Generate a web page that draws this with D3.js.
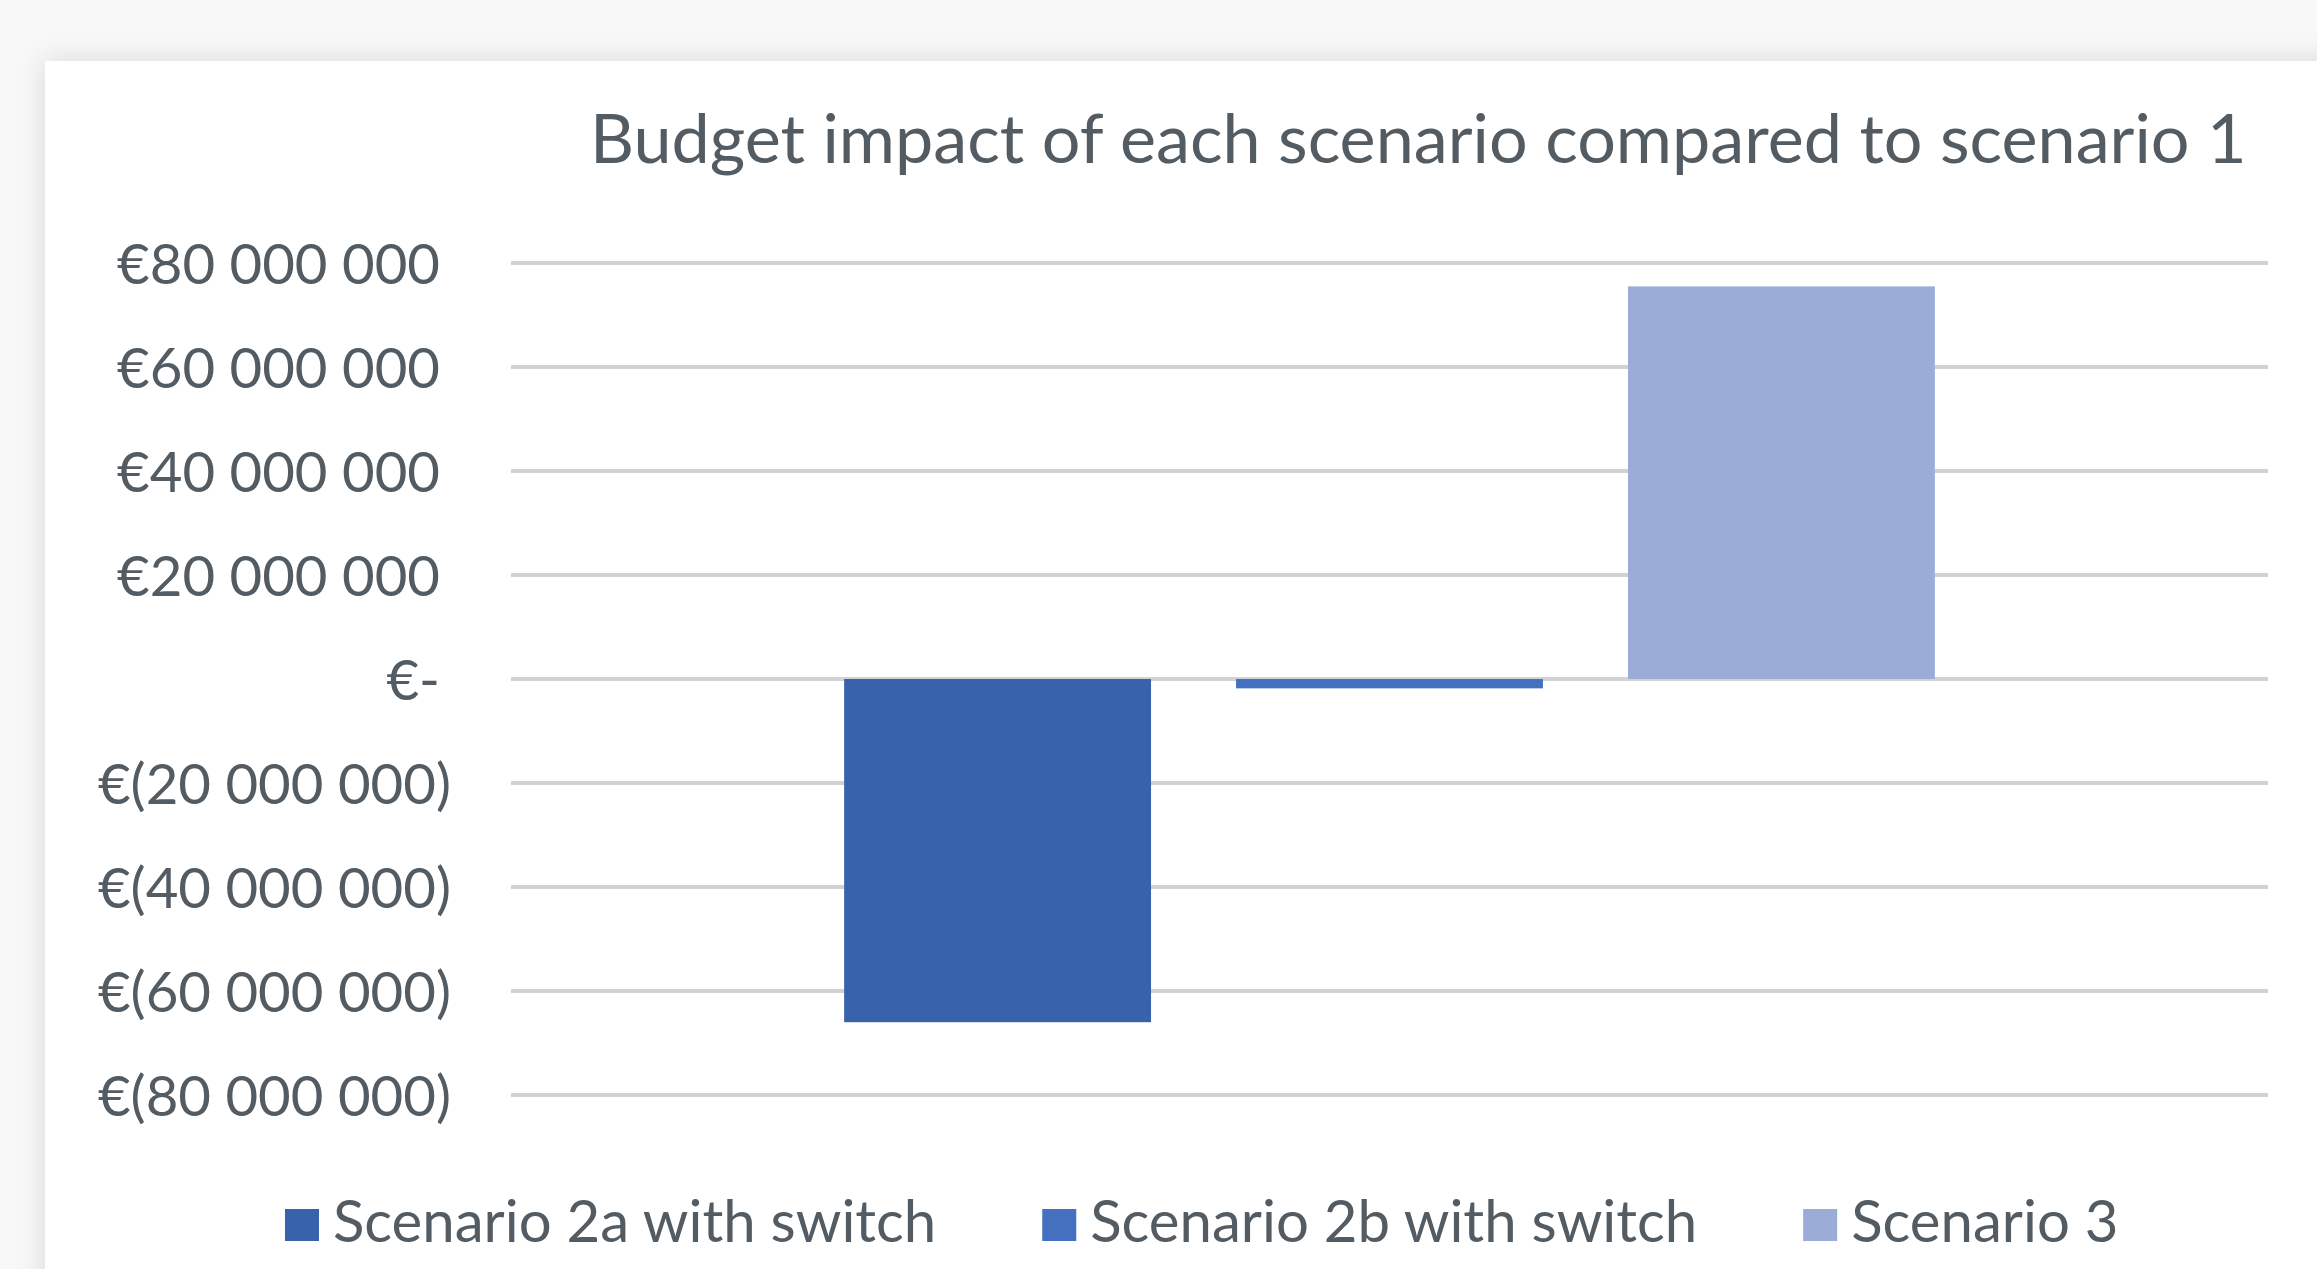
<!DOCTYPE html>
<html><head><meta charset="utf-8">
<script src="https://cdn.jsdelivr.net/npm/d3@7"></script>
<style>html,body{margin:0;padding:0;background:#f8f8f8;overflow:hidden} svg{display:block}</style>
</head><body><svg id="c" width="2317" height="1269"></svg>
<script>
const title = "Budget impact of each scenario compared to scenario 1";
const series = ["Scenario 2a with switch", "Scenario 2b with switch", "Scenario 3"];
const values = [-66000000, -1800000, 75500000];
const colors = ["#3862ab", "#4371bf", "#9badd7"];
const tickValues = [80e6, 60e6, 40e6, 20e6, 0, -20e6, -40e6, -60e6, -80e6];
const tickLabels = ["€80 000 000", "€60 000 000", "€40 000 000", "€20 000 000", "€-",
  "€(20 000 000)", "€(40 000 000)", "€(60 000 000)", "€(80 000 000)"];

const FONT = "Lato, 'Open Sans', sans-serif";
const TEXT = "#535b63";
const svg = d3.select("#c");

// shadow + card
const defs = svg.append("defs");
const f = defs.append("filter").attr("id", "sh").attr("x", "-10%").attr("y", "-10%").attr("width", "130%").attr("height", "130%");
f.append("feDropShadow").attr("dx", 0).attr("dy", 0).attr("stdDeviation", 14)
  .attr("flood-color", "#000").attr("flood-opacity", 0.13);
svg.append("rect").attr("x", 45).attr("y", 61).attr("width", 2500).attr("height", 1500)
  .attr("fill", "#fff").attr("filter", "url(#sh)");

const plot = {left: 511, right: 2268, top: 263, bottom: 1095};
const y = d3.scaleLinear().domain([-80e6, 80e6]).range([plot.bottom, plot.top]);
const x = d3.scaleBand().domain(series).range([plot.left, plot.right])
  .paddingInner(0.217).paddingOuter(0.85);

function fit(sel, target) {
  sel.style("font-size", "100px");
  const w = sel.node().getComputedTextLength();
  const fs = 100 * target / w;
  sel.style("font-size", fs + "px");
  return fs;
}

// gridlines
svg.append("g").selectAll("line").data(tickValues).join("line")
  .attr("x1", plot.left).attr("x2", plot.right)
  .attr("y1", d => y(d)).attr("y2", d => y(d))
  .attr("stroke", "#cfd3d6").attr("stroke-width", 4);

// axis labels
const axis = d3.axisLeft(y).tickValues(tickValues).tickSize(0).tickPadding(0)
  .tickFormat((d, i) => tickLabels[i]);
const ag = svg.append("g").attr("transform", "translate(451,0)").call(axis);
ag.select(".domain").remove();
ag.selectAll("text").attr("fill", TEXT).style("font-family", FONT).attr("dy", "0.36em");
const lbl0 = ag.selectAll("text").filter((d, i) => i === 0);
const afs = fit(lbl0, 323);
ag.selectAll("text").style("font-size", afs + "px")
  .attr("x", (d, i) => tickLabels[i].includes(")") ? 0 : -11);

// bars
svg.append("g").selectAll("rect").data(values).join("rect")
  .attr("x", (d, i) => x(series[i]))
  .attr("width", x.bandwidth())
  .attr("y", d => y(Math.max(0, d)))
  .attr("height", d => Math.abs(y(d) - y(0)))
  .attr("fill", (d, i) => colors[i]);

// title
const t = svg.append("text").attr("x", 590).attr("y", 163).attr("fill", TEXT)
  .style("font-family", FONT).text(title);
fit(t, 1657);

// legend
const lg = svg.append("g");
const items = lg.selectAll("g").data(series).join("g");
items.append("rect").attr("width", 34).attr("height", 32).attr("y", 1209)
  .attr("fill", (d, i) => colors[i]);
items.append("text").attr("y", 1242).attr("fill", TEXT).style("font-family", FONT).text(d => d);
const lt = items.filter((d, i) => i === 1).select("text");
const lfs = fit(lt, 607);
items.selectAll("text").style("font-size", lfs + "px");
let cx = 285;
items.each(function () {
  const g = d3.select(this);
  g.select("rect").attr("x", cx);
  g.select("text").attr("x", cx + 48);
  cx += 48 + g.select("text").node().getComputedTextLength() + 106;
});
</script></body></html>
